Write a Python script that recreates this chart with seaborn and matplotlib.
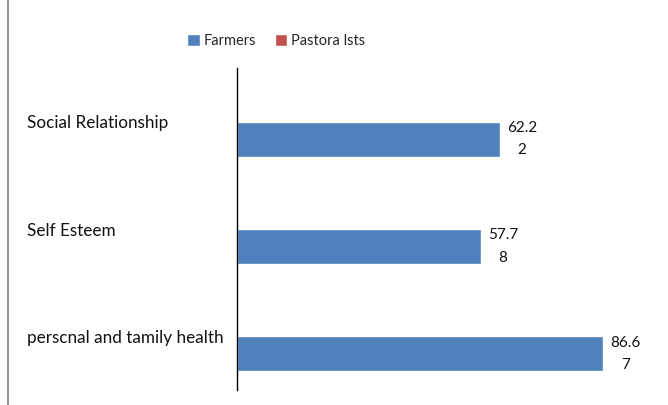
import matplotlib
matplotlib.use("Agg")
import matplotlib.pyplot as plt
import seaborn as sns
import pandas as pd
from matplotlib.lines import Line2D
from matplotlib.patches import Patch

categories = ["Social Relationship", "Self Esteem", "perscnal and tamily health"]
farmers = [62.22, 57.78, 86.67]
pastoralists = [0, 0, 0]
series_names = ["Farmers", "Pastora lsts"]

df = pd.DataFrame({
    "category": categories * 2,
    "value": farmers + pastoralists,
    "series": [series_names[0]] * 3 + [series_names[1]] * 3,
})

sns.set_theme(style="white")
plt.rcParams["font.family"] = ["Lato", "DejaVu Sans"]

blue = "#4F81BD"
red = "#C0504D"

fig = plt.figure(figsize=(6.68, 4.05), dpi=100)
ax = fig.add_axes([237 / 668, 1 - 390 / 405, (641 - 237) / 668, (390 - 68) / 405])

sns.barplot(data=df, y="category", x="value", hue="series",
            hue_order=[series_names[1], series_names[0]],
            palette={series_names[0]: blue, series_names[1]: red},
            order=categories, width=0.65, ax=ax, legend=False, saturation=1)

ax.set_xlim(0, (641 - 237) / 4.223)
ax.set_ylim(2.5, -0.5)
ax.set_xlabel("")
ax.set_ylabel("")
ax.set_xticks([])
for s in ["top", "right", "bottom"]:
    ax.spines[s].set_visible(False)
ax.spines["left"].set_color("black")
ax.spines["left"].set_linewidth(1.0)

ax.tick_params(axis="y", length=0, pad=151, labelsize=12.3, labelcolor="#111111")
for lab in ax.get_yticklabels():
    lab.set_horizontalalignment("left")

# data labels for Farmers bars
for i, v in enumerate(farmers):
    s = f"{v:.2f}"
    txt = s[:4] + "\n" + s[4:]
    ax.annotate(txt, xy=(v, i + 0.1625), xytext=(5, 0), textcoords="offset points",
                ha="left", va="center", multialignment="center",
                fontsize=11, color="#111111", linespacing=1.75)

handles = [Patch(facecolor=blue, label=series_names[0]),
           Patch(facecolor=red, label=series_names[1])]
fig.legend(handles=handles, loc="center", bbox_to_anchor=(276 / 668, 1 - 41 / 405),
           ncol=2, frameon=False, fontsize=10.5, handlelength=0.85, handleheight=0.85,
           handletextpad=0.25, columnspacing=1.3)

fig.add_artist(Line2D([8 / 668, 8 / 668], [0, 1], transform=fig.transFigure,
                      color="#999999", linewidth=1.5))

fig.savefig("out.png", dpi=100)
